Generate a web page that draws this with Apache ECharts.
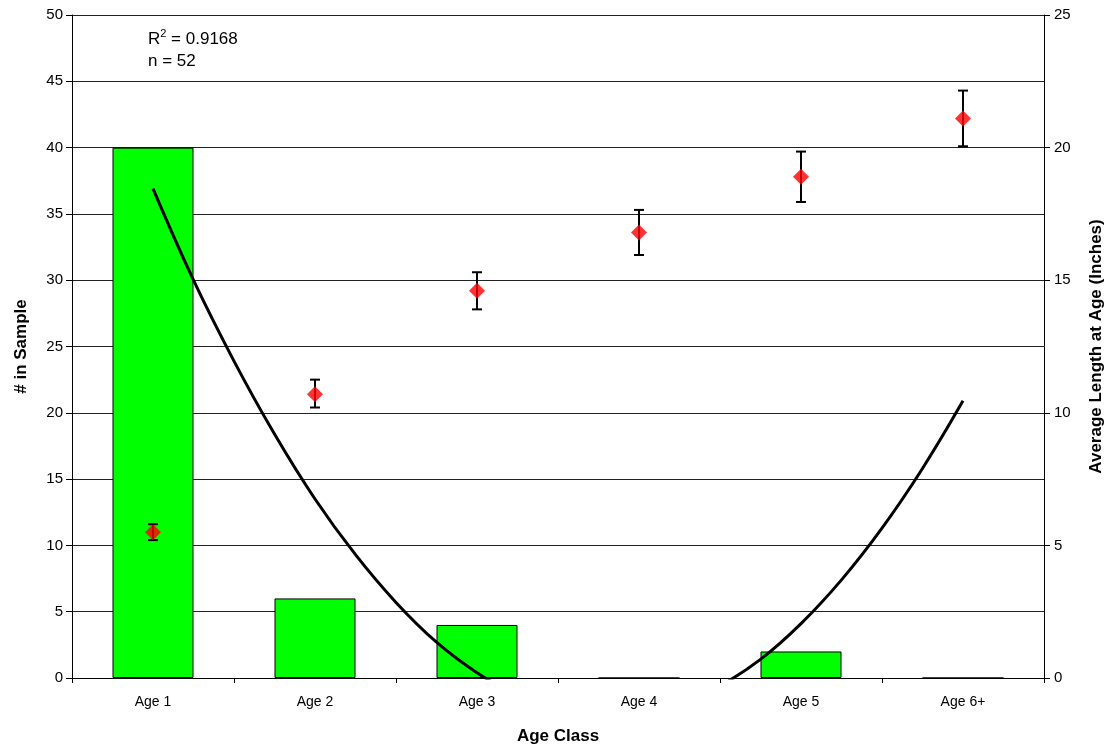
<!DOCTYPE html>
<html>
<head>
<meta charset="utf-8">
<script src="https://cdn.jsdelivr.net/npm/echarts@6/dist/echarts.min.js"></script>
<style>
  html, body { margin: 0; padding: 0; background: #fff; }
  #chart { width: 1112px; height: 748px; }
</style>
</head>
<body>
<div id="chart"></div>
<script>
// age classes and counts (left axis)
const ageClasses = ['Age 1', 'Age 2', 'Age 3', 'Age 4', 'Age 5', 'Age 6+'];
const sampleCounts = [40, 6, 4, 0, 2, 0];

// average length at age (right axis) with error range
const lengthMean = [5.5, 10.7, 14.6, 16.8, 18.9, 21.1];
const lengthLow = [5.2, 10.2, 13.9, 15.95, 17.95, 20.05];
const lengthHigh = [5.8, 11.25, 15.3, 17.65, 19.85, 22.15];

// polynomial trendline: [category position, count]
const trendPos = [1, 1.25, 1.5, 1.75, 2, 2.25, 2.5, 2.75, 3, 3.25, 3.5,
  3.75, 4, 4.25, 4.5, 4.75, 5, 5.25, 5.5, 5.75, 6];
const trendVal = [36.9, 30.0, 23.9, 18.4, 13.5, 9.3, 5.7, 2.7, 0.4, -1.3, -2.4,
  -2.9, -2.8, -2.0, -0.6, 1.4, 4.1, 7.4, 11.3, 15.8, 20.9];

const FONT = '"Liberation Sans", Arial, sans-serif';

const chart = echarts.init(document.getElementById('chart'));

const option = {
  animation: false,
  textStyle: { fontFamily: FONT },
  grid: { left: 72, right: 68, top: 15, bottom: 70, outerBoundsMode: 'none', containLabel: false },
  graphic: [{
    type: 'text',
    left: 148,
    top: 28,
    style: {
      text: 'R{sup|2} = 0.9168\nn = 52',
      font: '17px ' + FONT,
      fill: '#000',
      lineHeight: 22,
      rich: {
        sup: { fontSize: 11, verticalAlign: 'top', padding: [0, 0, 8, 0] }
      }
    }
  }],
  xAxis: [
    {
      type: 'category',
      data: ageClasses,
      name: 'Age Class',
      nameLocation: 'middle',
      nameGap: 50,
      nameTextStyle: { fontSize: 17, fontWeight: 'bold', color: '#000', fontFamily: FONT },
      axisLine: { lineStyle: { color: '#000', width: 1 } },
      axisTick: { show: true, length: 5, lineStyle: { color: '#000' } },
      axisLabel: { fontSize: 14, color: '#000', margin: 17, fontFamily: FONT },
      splitLine: { show: false }
    },
    {
      type: 'value',
      min: 0.5,
      max: 6.5,
      show: false
    }
  ],
  yAxis: [
    {
      type: 'value',
      min: 0,
      max: 50,
      interval: 5,
      name: '# in Sample',
      nameLocation: 'middle',
      nameGap: 42,
      nameTextStyle: { fontSize: 17, fontWeight: 'bold', color: '#000', fontFamily: FONT },
      axisLine: { show: true, lineStyle: { color: '#000', width: 1 } },
      axisTick: { show: true, length: 6, lineStyle: { color: '#000' } },
      axisLabel: { fontSize: 15, color: '#000', margin: 9, fontFamily: FONT },
      splitLine: { show: true, lineStyle: { color: '#222', width: 1 } }
    },
    {
      type: 'value',
      min: 0,
      max: 25,
      interval: 5,
      position: 'right',
      name: 'Average Length at Age (Inches)',
      nameLocation: 'middle',
      nameGap: 44,
      nameRotate: 90,
      nameTextStyle: { fontSize: 17, fontWeight: 'bold', color: '#000', fontFamily: FONT },
      axisLine: { show: true, lineStyle: { color: '#000', width: 1 } },
      axisTick: { show: true, length: 6, lineStyle: { color: '#000' } },
      axisLabel: { fontSize: 15, color: '#000', margin: 10, fontFamily: FONT },
      splitLine: { show: false }
    }
  ],
  series: [
    {
      name: '# in Sample',
      type: 'bar',
      data: sampleCounts,
      barWidth: '50%',
      itemStyle: { color: '#00ff00', borderColor: '#000', borderWidth: 1 },
      z: 2
    },
    {
      name: 'Trend',
      type: 'line',
      xAxisIndex: 1,
      yAxisIndex: 0,
      data: trendPos.map((p, i) => [p, trendVal[i]]),
      smooth: 0.4,
      symbol: 'none',
      clip: true,
      lineStyle: { color: '#000', width: 3 },
      z: 4
    },
    {
      name: 'Error',
      type: 'custom',
      xAxisIndex: 0,
      yAxisIndex: 1,
      data: ageClasses.map((c, i) => [i, lengthLow[i], lengthHigh[i]]),
      renderItem: function (params, api) {
        const x = api.value(0);
        const lo = api.coord([x, api.value(1)]);
        const hi = api.coord([x, api.value(2)]);
        const cap = 5;
        const st = { stroke: '#000', lineWidth: 2 };
        return {
          type: 'group',
          children: [
            { type: 'line', shape: { x1: lo[0], y1: lo[1], x2: hi[0], y2: hi[1] }, style: st },
            { type: 'line', shape: { x1: lo[0] - cap, y1: lo[1], x2: lo[0] + cap, y2: lo[1] }, style: st },
            { type: 'line', shape: { x1: hi[0] - cap, y1: hi[1], x2: hi[0] + cap, y2: hi[1] }, style: st }
          ]
        };
      },
      z: 5
    },
    {
      name: 'Average Length',
      type: 'scatter',
      xAxisIndex: 0,
      yAxisIndex: 1,
      data: lengthMean,
      symbol: 'diamond',
      symbolSize: [16, 16],
      itemStyle: { color: '#ff0000' },
      z: 6
    }
  ]
};

chart.setOption(option);
</script>
</body>
</html>
